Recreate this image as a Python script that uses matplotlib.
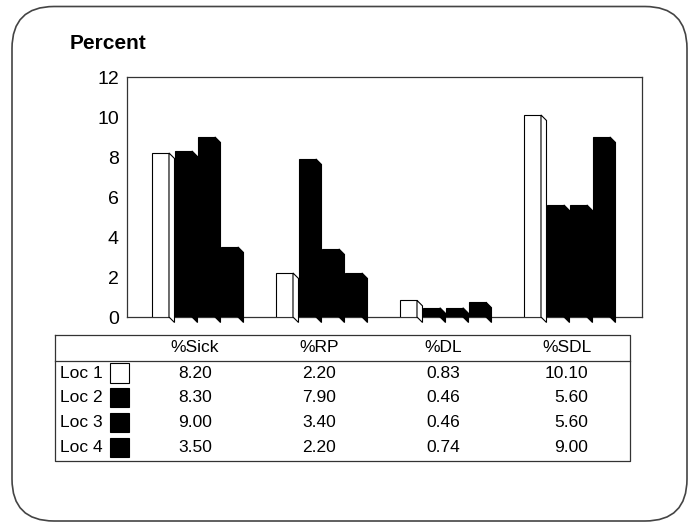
import matplotlib
matplotlib.use("Agg")
import matplotlib.pyplot as plt
from matplotlib.patches import Polygon, Rectangle, FancyBboxPatch
from matplotlib.transforms import blended_transform_factory

plt.rcParams['font.family'] = ['Liberation Sans', 'DejaVu Sans']

# ---- data -------------------------------------------------------------
categories = ["%Sick", "%RP", "%DL", "%SDL"]
locations = ["Loc 1", "Loc 2", "Loc 3", "Loc 4"]
loc1 = [8.20, 2.20, 0.83, 10.10]
loc2 = [8.30, 7.90, 0.46, 5.60]
loc3 = [9.00, 3.40, 0.46, 5.60]
loc4 = [3.50, 2.20, 0.74, 9.00]
series = [loc1, loc2, loc3, loc4]
face_colors = ["white", "black", "black", "black"]
y_ticks = [0, 2, 4, 6, 8, 10, 12]

W, H = 696, 522
fig = plt.figure(figsize=(W / 100, H / 100), dpi=100)

# overlay in pixel coordinates for border, title and table
ov = fig.add_axes([0, 0, 1, 1])
ov.set_xlim(0, W)
ov.set_ylim(H, 0)
ov.axis("off")

# ---- main bar axes ----------------------------------------------------
ax_l, ax_r, ax_t, ax_b = 127, 642, 77, 317
ax = fig.add_axes([ax_l / W, (H - ax_b) / H, (ax_r - ax_l) / W, (ax_b - ax_t) / H])
unit = 124.0                       # pixels per category step
x0 = -(195 - ax_l) / unit
ax.set_xlim(x0, x0 + (ax_r - ax_l) / unit)
ax.set_ylim(0, 12)

bar_w = 17 / unit
step = 23 / unit
group_half = (3 * 23 + 17) / 2 / unit
dx = 5.5 / unit                    # depth of the side face, x
dy = 5.5 / ((ax_b - ax_t) / 12)    # depth of the side face, y

for j, (vals, fc) in enumerate(zip(series, face_colors)):
    for i, v in enumerate(vals):
        left = i - group_half + j * step
        ax.bar(left, v, width=bar_w, align="edge", color=fc,
               edgecolor="black", linewidth=0.8, zorder=3 + j)
        xr = left + bar_w
        side = Polygon([(xr, v), (xr + dx, v - dy), (xr + dx, -dy), (xr, 0)],
                       closed=True, facecolor=fc, edgecolor="black",
                       linewidth=0.8, clip_on=False, zorder=3 + j)
        ax.add_patch(side)

ax.set_xticks([])
ax.set_yticks(y_ticks)
ax.set_yticklabels([str(t) for t in y_ticks], fontsize=14)
ax.tick_params(axis="y", length=0, pad=5.8)
for s in ax.spines.values():
    s.set_color("#333333")
    s.set_linewidth(0.9)

# ---- title ------------------------------------------------------------
ov.text(70, 49, "Percent", fontsize=15, fontweight="bold", ha="left",
        va="baseline")

# ---- rounded border ---------------------------------------------------
ov.add_patch(FancyBboxPatch((12, 6.5), 675, 514.5,
                            boxstyle="round,pad=0,rounding_size=42",
                            facecolor="none", edgecolor="#444444",
                            linewidth=1.2, clip_on=False))

# ---- data table -------------------------------------------------------
tb_l, tb_r, tb_t, tb_b, tb_h = 55, 630, 335, 461, 360.5
ov.plot([tb_l, tb_r, tb_r, tb_l, tb_l], [tb_t, tb_t, tb_b, tb_b, tb_t],
        color="#333333", linewidth=0.9)
ov.plot([tb_l, tb_r], [tb_h, tb_h], color="#333333", linewidth=0.9)

tx = blended_transform_factory(ax.transData, ov.transData)
row_y = [373, 397.5, 422.5, 447.5]
val_right = [17 / unit, 17 / unit, 17 / unit, 21 / unit]

for i, cat in enumerate(categories):
    ov.text(i, 347, cat, transform=tx, fontsize=12.5, ha="center",
            va="center")

for j, (name, vals, fc) in enumerate(zip(locations, series, face_colors)):
    y = row_y[j]
    ov.text(60.5, y, name, fontsize=12.5, ha="left", va="center")
    ov.add_patch(Rectangle((109.5, y - 10), 19.5, 19.5, facecolor=fc,
                           edgecolor="black", linewidth=0.8))
    for i, v in enumerate(vals):
        ov.text(i + val_right[i], y, f"{v:.2f}", transform=tx,
                fontsize=12.5, ha="right", va="center")

fig.savefig("out.png", dpi=100)
